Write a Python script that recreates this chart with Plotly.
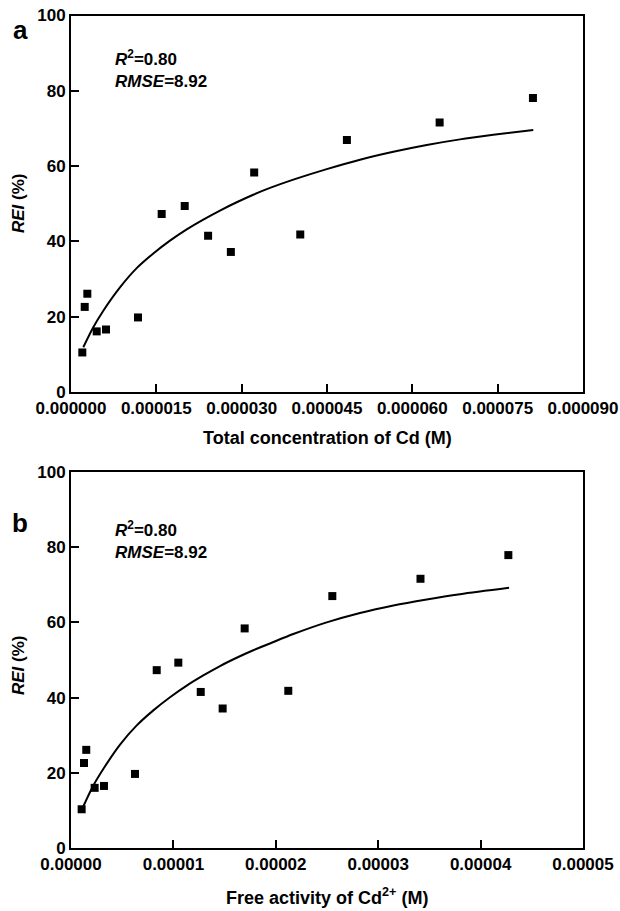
import plotly.graph_objects as go

# ---- data ----
total_cd = [1.99e-6, 2.41e-6, 2.87e-6, 4.52e-6, 6.15e-6, 1.178e-5, 1.594e-5, 1.999e-5,
            2.41e-5, 2.81e-5, 3.22e-5, 4.03e-5, 4.85e-5, 6.48e-5, 8.12e-5]
rei_a = [10.5, 22.6, 26.1, 16.1, 16.6, 19.8, 47.3, 49.4, 41.5, 37.2, 58.3, 41.8, 66.9, 71.6, 78.1]

fit_a_x = [2.16e-6, 3.92e-6, 5.68e-6, 8.61e-6, 1.155e-5, 1.447e-5, 1.740e-5, 2.034e-5,
           2.326e-5, 2.619e-5, 2.913e-5, 3.204e-5, 3.498e-5, 3.908e-5, 4.495e-5,
           5.080e-5, 5.666e-5, 6.253e-5, 6.838e-5, 7.423e-5, 8.126e-5]
fit_a_y = [11.9, 17.2, 21.6, 27.8, 32.9, 36.8, 40.2, 43.2, 45.8, 48.2, 50.4, 52.4,
           54.2, 56.4, 59.2, 61.7, 63.8, 65.6, 67.1, 68.3, 69.6]

free_cd = [1.04e-6, 1.27e-6, 1.49e-6, 2.31e-6, 3.22e-6, 6.25e-6, 8.37e-6, 1.048e-5,
           1.267e-5, 1.481e-5, 1.696e-5, 2.122e-5, 2.552e-5, 3.413e-5, 4.271e-5]
rei_b = [10.3, 22.6, 26.1, 16.0, 16.5, 19.7, 47.3, 49.3, 41.5, 37.1, 58.4, 41.8, 67.0, 71.6, 77.9]

fit_b_x = [1.14e-6, 2.12e-6, 3.15e-6, 4.79e-6, 6.42e-6, 8.04e-6, 9.67e-6, 1.130e-5,
           1.292e-5, 1.455e-5, 1.618e-5, 1.780e-5, 1.943e-5, 2.171e-5, 2.497e-5,
           2.822e-5, 3.148e-5, 3.474e-5, 3.799e-5, 4.278e-5]
fit_b_y = [10.7, 16.3, 21.0, 27.5, 32.6, 36.6, 40.1, 43.2, 45.9, 48.4, 50.6, 52.6,
           54.4, 56.9, 60.0, 62.5, 64.5, 66.1, 67.5, 69.2]

yticks = [0, 20, 40, 60, 80, 100]
xticks_a = [0, 0.000015, 0.00003, 0.000045, 0.00006, 0.000075, 0.00009]
xticks_b = [0, 0.00001, 0.00002, 0.00003, 0.00004, 0.00005]

FONT = "Liberation Sans, Arial, sans-serif"

fig = go.Figure()
fig.add_trace(go.Scatter(x=total_cd, y=rei_a, mode="markers",
                         marker=dict(symbol="square", size=8, color="black"),
                         xaxis="x", yaxis="y", showlegend=False))
fig.add_trace(go.Scatter(x=fit_a_x, y=fit_a_y, mode="lines",
                         line=dict(color="black", width=2, shape="spline", smoothing=0.8),
                         xaxis="x", yaxis="y", showlegend=False))
fig.add_trace(go.Scatter(x=free_cd, y=rei_b, mode="markers",
                         marker=dict(symbol="square", size=8, color="black"),
                         xaxis="x2", yaxis="y2", showlegend=False))
fig.add_trace(go.Scatter(x=fit_b_x, y=fit_b_y, mode="lines",
                         line=dict(color="black", width=2, shape="spline", smoothing=0.8),
                         xaxis="x2", yaxis="y2", showlegend=False))

W, H = 620, 911
xdom = [71 / W, 583 / W]
ya_dom = [1 - 392 / H, 1 - 15.5 / H]
yb_dom = [1 - 848 / H, 1 - 472 / H]

axis_common = dict(showgrid=False, zeroline=False, showline=True, linecolor="black",
                   linewidth=2, mirror=True, ticks="inside", ticklen=8, tickwidth=2,
                   tickcolor="black", automargin=False,
                   tickfont=dict(family=FONT, size=17, color="black", weight="bold"))

fig.update_layout(
    width=W, height=H, margin=dict(l=0, r=0, t=0, b=0, autoexpand=False),
    paper_bgcolor="white", plot_bgcolor="white",
    font=dict(family=FONT, color="black", weight="bold"),
    xaxis=dict(domain=xdom, range=[0, 0.00009], tickvals=xticks_a, tickformat=".6f",
               anchor="y", **axis_common),
    yaxis=dict(domain=ya_dom, range=[0, 100], tickvals=yticks, anchor="x", **axis_common),
    xaxis2=dict(domain=xdom, range=[0, 0.00005], tickvals=xticks_b, tickformat=".5f",
                anchor="y2", **axis_common),
    yaxis2=dict(domain=yb_dom, range=[0, 100], tickvals=yticks, anchor="x2", **axis_common),
)

def ann(text, x, y, size, xanchor="center", yanchor="middle", angle=0):
    fig.add_annotation(text=text, x=x / W, y=1 - y / H, xref="paper", yref="paper",
                       showarrow=False, xanchor=xanchor, yanchor=yanchor, textangle=angle,
                       font=dict(family=FONT, size=size, color="black", weight="bold"))

ann("a", 20, 30, 26)
ann("b", 20, 523, 26)
ann("<i>R</i><sup>2</sup>=0.80", 113, 58, 17, xanchor="left")
ann("<i>RMSE</i>=8.92", 113, 81, 17, xanchor="left")
ann("<i>R</i><sup>2</sup>=0.80", 113, 529, 17, xanchor="left")
ann("<i>RMSE</i>=8.92", 113, 552, 17, xanchor="left")
ann("<i>REI</i> (%)", 18, 203, 17, angle=-90)
ann("<i>REI</i> (%)", 18, 665, 17, angle=-90)
ann("Total concentration of Cd (M)", 327, 438, 18)
ann("Free activity of Cd<sup>2+</sup> (M)", 327, 896, 18)

fig.write_html("out.html")
